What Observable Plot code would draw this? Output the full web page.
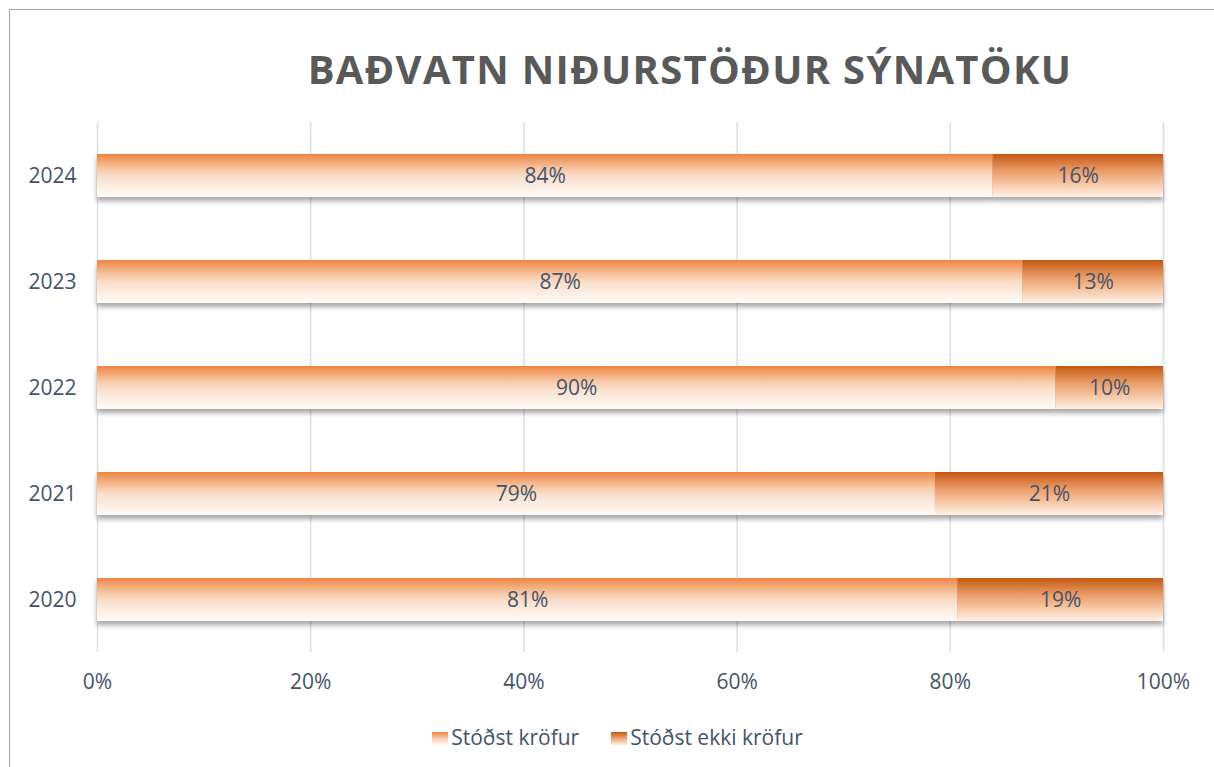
<!DOCTYPE html>
<html>
<head>
<meta charset="utf-8">
<script src="https://cdn.jsdelivr.net/npm/d3@7"></script>
<script src="https://cdn.jsdelivr.net/npm/@observablehq/plot@0.6"></script>
<style>
  html, body { margin: 0; padding: 0; background: #fff; }
  #wrap { position: relative; width: 1214px; height: 767px; overflow: hidden; font-family: "Open Sans", sans-serif; }
  #frame { position: absolute; left: 9px; top: 9px; width: 1230px; height: 790px; border: 1.5px solid #a3a3a3; box-sizing: border-box; }
  #title { position: absolute; top: 41px; left: 690px; transform: translateX(-50%); white-space: nowrap;
           font-size: 40px; font-weight: 700; color: #595959; letter-spacing: 1.3px; }
  #chart { position: absolute; left: 0; top: 112px; }
  #chart svg g[aria-label="bar"] { filter: drop-shadow(0px 4px 2.5px rgba(0,0,0,0.35)); }
  #legend { position: absolute; left: 0; top: 717px; width: 1214px; height: 40px; display: flex; justify-content: center; align-items: center;
            padding-left: 21px; box-sizing: border-box; font-size: 21px; color: #44546a; }
  .item { display: flex; align-items: center; margin: 0 16px; }
  .sw { width: 16px; height: 13px; margin-right: 3px; margin-top: 2px; }
</style>
</head>
<body>
<div id="wrap">
  <svg width="0" height="0" style="position:absolute">
    <defs>
      <linearGradient id="gLight" x1="0" y1="0" x2="0" y2="1">
        <stop offset="0" stop-color="#ee8541"/>
        <stop offset="0.35" stop-color="#f7c7a5"/>
        <stop offset="0.55" stop-color="#fae1cf"/>
        <stop offset="1" stop-color="#fffbf8"/>
      </linearGradient>
      <linearGradient id="gDark" x1="0" y1="0" x2="0" y2="1">
        <stop offset="0" stop-color="#c45911"/>
        <stop offset="0.4" stop-color="#eb9d6b"/>
        <stop offset="0.7" stop-color="#f6c7a5"/>
        <stop offset="1" stop-color="#fef2e9"/>
      </linearGradient>
    </defs>
  </svg>
  <div id="frame"></div>
  <div id="title">BAÐVATN NIÐURSTÖÐUR SÝNATÖKU</div>
  <div id="chart"></div>
  <div id="legend"></div>
</div>
<script>
// Data
const years = ["2024", "2023", "2022", "2021", "2020"];
const passed = [84.0, 86.8, 89.9, 78.6, 80.7];      // Stóðst kröfur (%)
const failed = [16.0, 13.2, 10.1, 21.4, 19.3];      // Stóðst ekki kröfur (%)
const seriesNames = ["Stóðst kröfur", "Stóðst ekki kröfur"];
const xTicks = [0, 20, 40, 60, 80, 100];

const gradients = ["url(#gLight)", "url(#gDark)"];

const rows = [];
years.forEach((y, i) => {
  rows.push({year: y, series: seriesNames[0], value: passed[i]});
  rows.push({year: y, series: seriesNames[1], value: failed[i]});
});

const chart = Plot.plot({
  width: 1214,
  height: 600,
  marginTop: 10,
  marginBottom: 60,
  marginLeft: 97,
  marginRight: 51,
  style: {fontFamily: "Open Sans, sans-serif", fontSize: "21px", color: "#44546a", background: "transparent"},
  x: {domain: [0, 100], ticks: xTicks, tickFormat: d => d + "%", tickSize: 0, tickPadding: 22, label: null},
  y: {domain: years, paddingInner: 0.595, paddingOuter: 0.2975, tickSize: 0, tickPadding: 21, label: null},
  color: {domain: seriesNames, range: gradients},
  marks: [
    Plot.gridX(xTicks, {stroke: "#dde1e8", strokeOpacity: 1, strokeWidth: 1.6}),
    Plot.barX(rows, Plot.stackX({x: "value", y: "year", fill: "series", z: "series", order: seriesNames})),
    Plot.text(rows, Plot.stackX({x: "value", y: "year", z: "series", order: seriesNames,
      text: d => Math.round(d.value) + "%", fill: "#44546a", fontSize: 21}))
  ]
});
document.getElementById("chart").appendChild(chart);

// Legend
const legend = document.getElementById("legend");
const swatchCss = [
  "linear-gradient(#ee8541, #f7c7a5 45%, #fffbf8)",
  "linear-gradient(#c45911, #eb9d6b 45%, #fef2e9)"
];
seriesNames.forEach((name, i) => {
  const it = document.createElement("div");
  it.className = "item";
  const sw = document.createElement("div");
  sw.className = "sw";
  sw.style.background = swatchCss[i];
  const tx = document.createElement("span");
  tx.textContent = name;
  it.appendChild(sw); it.appendChild(tx);
  legend.appendChild(it);
});
</script>
</body>
</html>
